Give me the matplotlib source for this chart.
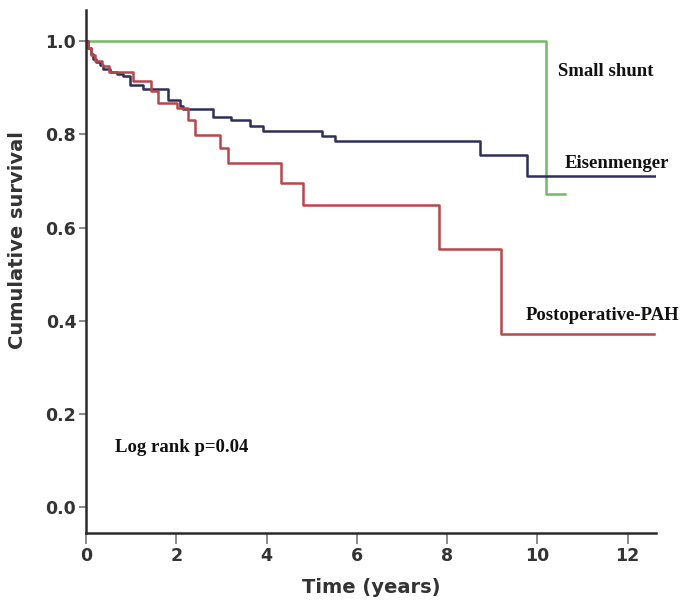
import matplotlib.pyplot as plt

# Kaplan-Meier steps (time in years, cumulative survival)
shunt_t = [0, 10.19, 10.62]
shunt_s = [1.0, 0.672, 0.672]

eisen_t = [0, 0.04, 0.1, 0.16, 0.22, 0.3, 0.38, 0.53, 0.68, 0.83, 0.97, 1.27, 1.82,
           2.08, 2.15, 2.82, 3.22, 3.63, 3.92, 5.22, 5.51, 8.74, 9.77, 12.6]
eisen_s = [1.0, 0.985, 0.972, 0.962, 0.955, 0.948, 0.941, 0.934, 0.930, 0.925, 0.906,
           0.898, 0.873, 0.862, 0.854, 0.838, 0.831, 0.818, 0.807, 0.796, 0.785,
           0.755, 0.711, 0.711]

pah_t = [0, 0.05, 0.12, 0.2, 0.35, 0.5, 1.05, 1.45, 1.6, 2.01, 2.27, 2.42, 2.96,
         3.15, 4.33, 4.81, 7.82, 9.2, 12.59]
pah_s = [1.0, 0.985, 0.97, 0.958, 0.946, 0.933, 0.914, 0.893, 0.868, 0.856, 0.831,
         0.798, 0.77, 0.739, 0.695, 0.648, 0.554, 0.371, 0.371]

x_ticks = [0, 2, 4, 6, 8, 10, 12]
y_ticks = [0.0, 0.2, 0.4, 0.6, 0.8, 1.0]

fig = plt.figure(figsize=(6.98, 6.01), dpi=100)
ax = fig.add_axes([0.1232, 0.1131, 0.8166, 0.8702])

ax.step(shunt_t, shunt_s, where='post', color='#74b964', lw=1.8)
ax.step(eisen_t, eisen_s, where='post', color='#2c2f57', lw=1.8)
ax.step(pah_t, pah_s, where='post', color='#b6474b', lw=1.8)

ax.set_xlim(0, 12.63)
ax.set_ylim(-0.056, 1.067)
ax.set_xticks(x_ticks)
ax.set_yticks(y_ticks)
ax.set_xticklabels([str(v) for v in x_ticks])
ax.set_yticklabels(['%.1f' % v for v in y_ticks])

for s in ['top', 'right']:
    ax.spines[s].set_visible(False)
for s in ['left', 'bottom']:
    ax.spines[s].set_linewidth(1.8)
    ax.spines[s].set_color('#2a2a2a')

ax.tick_params(axis='x', length=8, width=1.2, color='#777777', pad=2,
               labelsize=12.5, labelcolor='#333333')
ax.tick_params(axis='y', length=5, width=1.2, color='#777777', pad=2,
               labelsize=12.5, labelcolor='#333333')
for lab in ax.get_xticklabels() + ax.get_yticklabels():
    lab.set_fontweight('bold')

ax.set_xlabel('Time (years)', fontsize=14, fontweight='bold', color='#333333')
ax.set_ylabel('Cumulative survival', fontsize=14, fontweight='bold', color='#333333')
ax.xaxis.set_label_coords(0.5, -0.086)
ax.yaxis.set_label_coords(-0.104, 0.56)

serif = dict(family='Liberation Serif', fontweight='bold', fontsize=13.5, color='#111111',
             va='center', ha='left')
ax.text(10.45, 0.935, 'Small shunt', **serif)
ax.text(10.6, 0.738, 'Eisenmenger', **serif)
ax.text(9.75, 0.412, 'Postoperative-PAH', **serif)
ax.text(0.65, 0.127, 'Log rank p=0.04', **serif)

fig.savefig('out.png', dpi=100)
